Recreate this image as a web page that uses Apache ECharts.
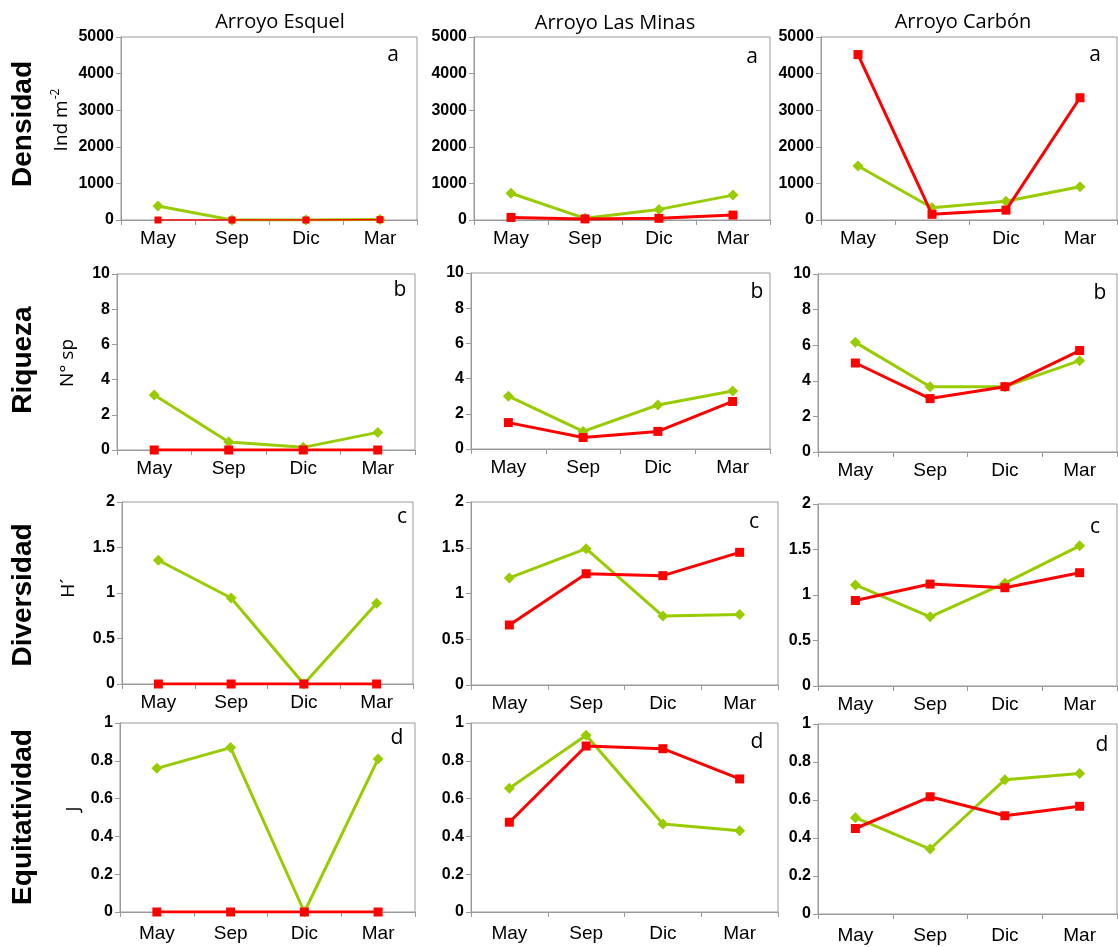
<!DOCTYPE html>
<html><head><meta charset="utf-8">
<script src="https://cdn.jsdelivr.net/npm/echarts@6/dist/echarts.min.js"></script>
<style>html,body{margin:0;padding:0;background:#fff}#c{width:1118px;height:947px}</style>
</head><body><div id="c"></div>
<script>
const months = ['May','Sep','Dic','Mar'];
const sites = ['Arroyo Esquel','Arroyo Las Minas','Arroyo Carbón'];
const rowTitles = ['Densidad','Riqueza','Diversidad','Equitatividad'];
const unitLabels = ['Ind m-2','N° sp','H´','J'];
const panelLetters = ['a','b','c','d'];
const yMaxes = [5000,10,2,1];
const yIntervals = [1000,2,0.5,0.2];

const densidadEsquelGreen = [380,0,0,15];
const densidadEsquelRed = [0,0,0,10];
const densidadMinasGreen = [730,45,290,680];
const densidadMinasRed = [70,30,45,135];
const densidadCarbonGreen = [1475,335,510,910];
const densidadCarbonRed = [4520,155,270,3340];
const riquezaEsquelGreen = [3.13,0.45,0.15,1.0];
const riquezaEsquelRed = [0,0,0,0];
const riquezaMinasGreen = [3.0,1.0,2.5,3.3];
const riquezaMinasRed = [1.5,0.65,1.0,2.7];
const riquezaCarbonGreen = [6.16,3.67,3.67,5.13];
const riquezaCarbonRed = [5.0,3.0,3.67,5.7];
const diversidadEsquelGreen = [1.36,0.945,0,0.887];
const diversidadEsquelRed = [0,0,0,0];
const diversidadMinasGreen = [1.17,1.49,0.754,0.77];
const diversidadMinasRed = [0.656,1.216,1.195,1.45];
const diversidadCarbonGreen = [1.11,0.76,1.13,1.54];
const diversidadCarbonRed = [0.94,1.12,1.08,1.245];
const equitatividadEsquelGreen = [0.76,0.87,0,0.81];
const equitatividadEsquelRed = [0,0,0,0];
const equitatividadMinasGreen = [0.655,0.935,0.466,0.43];
const equitatividadMinasRed = [0.475,0.878,0.864,0.704];
const equitatividadCarbonGreen = [0.507,0.342,0.707,0.74];
const equitatividadCarbonRed = [0.45,0.617,0.517,0.567];

const greenData = [
  [densidadEsquelGreen, densidadMinasGreen, densidadCarbonGreen],
  [riquezaEsquelGreen, riquezaMinasGreen, riquezaCarbonGreen],
  [diversidadEsquelGreen, diversidadMinasGreen, diversidadCarbonGreen],
  [equitatividadEsquelGreen, equitatividadMinasGreen, equitatividadCarbonGreen]
];
const redData = [
  [densidadEsquelRed, densidadMinasRed, densidadCarbonRed],
  [riquezaEsquelRed, riquezaMinasRed, riquezaCarbonRed],
  [diversidadEsquelRed, diversidadMinasRed, diversidadCarbonRed],
  [equitatividadEsquelRed, equitatividadMinasRed, equitatividadCarbonRed]
];

// layout: [left, top, right, bottom] of each plot area
const boxes = [
  [[121,37,417,220],[474,37,770,220],[821,37,1117,220]],
  [[117,274,415,450],[471,273,770,449],[818,274,1117,452]],
  [[122,502,413,684],[471,502,778,685],[818,504,1117,686]],
  [[120,723,415,912],[471,723,778,912],[818,724,1117,914]]
];
const letterPos = [
  [[393,55],[752,57],[1095,55]],
  [[400,290],[757,292],[1100,293]],
  [[402,517],[754,522],[1095,527]],
  [[397,738],[757,742],[1102,745]]
];
const titlePos = [[280,22],[615,23],[963,22]];
const rowLabelPos = [[23,124],[23,360],[23,595],[23,817]];
const unitPos = [[62,120],[68,363],[69,588],[74,809]];

const GREEN = '#99CC00', RED = '#FF0000', AXIS = '#9a9a9a';
const grids = [], xAxes = [], yAxes = [], series = [], graphics = [];

for (let r = 0; r < 4; r++) {
  for (let c = 0; c < 3; c++) {
    const i = r * 3 + c;
    const [l, t, rt, b] = boxes[r][c];
    grids.push({left: l, top: t, width: rt - l, height: b - t, show: true,
      borderColor: AXIS, borderWidth: 1, backgroundColor: 'transparent', containLabel: false});
    xAxes.push({type: 'category', gridIndex: i, data: months, boundaryGap: true,
      axisLine: {show: true, lineStyle: {color: AXIS, width: 1}},
      axisTick: {show: true, length: 5, interval: 0, lineStyle: {color: AXIS}},
      axisLabel: {interval: 0, color: '#000', fontSize: 19, fontFamily: 'Liberation Sans', margin: r === 3 ? 12 : 9},
      splitLine: {show: false}});
    yAxes.push({type: 'value', gridIndex: i, min: 0, max: yMaxes[r], interval: yIntervals[r],
      axisLine: {show: true, lineStyle: {color: AXIS, width: 1}},
      axisTick: {show: true, length: 5, lineStyle: {color: AXIS}},
      axisLabel: {color: '#000', fontSize: 16, fontFamily: 'Liberation Sans', fontWeight: 'bold', margin: 7,
        formatter: v => String(v)},
      splitLine: {show: false}});
    const thin = (r === 0 && c === 0);
    series.push({type: 'line', xAxisIndex: i, yAxisIndex: i, data: greenData[r][c],
      symbol: 'diamond', symbolSize: 11, showSymbol: true,
      lineStyle: {color: GREEN, width: 3}, itemStyle: {color: GREEN}, z: 2});
    series.push({type: 'line', xAxisIndex: i, yAxisIndex: i, data: redData[r][c],
      symbol: 'rect', symbolSize: thin ? 7 : 9, showSymbol: true,
      lineStyle: {color: RED, width: thin ? 1.5 : 3}, itemStyle: {color: RED}, z: 3});
    graphics.push({type: 'text', x: letterPos[r][c][0], y: letterPos[r][c][1],
      style: {text: panelLetters[r], font: '21px "Open Sans"', fill: '#000', textAlign: 'center', textVerticalAlign: 'middle'}});
  }
}
sites.forEach((s, c) => {
  graphics.push({type: 'text', x: titlePos[c][0], y: titlePos[c][1],
    style: {text: s, font: '20px "Open Sans"', fill: '#000', textAlign: 'center', textVerticalAlign: 'middle'}});
});
rowTitles.forEach((s, r) => {
  graphics.push({type: 'text', x: rowLabelPos[r][0], y: rowLabelPos[r][1], rotation: Math.PI / 2,
    style: {text: s, font: 'bold 28px "Liberation Sans"', fill: '#000', textAlign: 'center', textVerticalAlign: 'middle'}});
});
unitLabels.forEach((s, r) => {
  let style;
  if (r === 0) {
    style = {text: '{a|Ind m}{b|-2}', textAlign: 'center', textVerticalAlign: 'middle', fill: '#000',
      rich: {a: {fontSize: 19, fontFamily: 'Open Sans', fill: '#000'},
             b: {fontSize: 12, fontFamily: 'Open Sans', fill: '#000', padding: [0, 0, 12, 1]}}};
  } else {
    style = {text: s, font: '19px "Open Sans"', fill: '#000', textAlign: 'center', textVerticalAlign: 'middle'};
  }
  graphics.push({type: 'text', x: unitPos[r][0], y: unitPos[r][1], rotation: Math.PI / 2, style});
});

const chart = echarts.init(document.getElementById('c'), null, {renderer: 'canvas'});
chart.setOption({
  animation: false,
  backgroundColor: '#fff',
  grid: grids, xAxis: xAxes, yAxis: yAxes, series: series, graphic: graphics
});
</script></body></html>
